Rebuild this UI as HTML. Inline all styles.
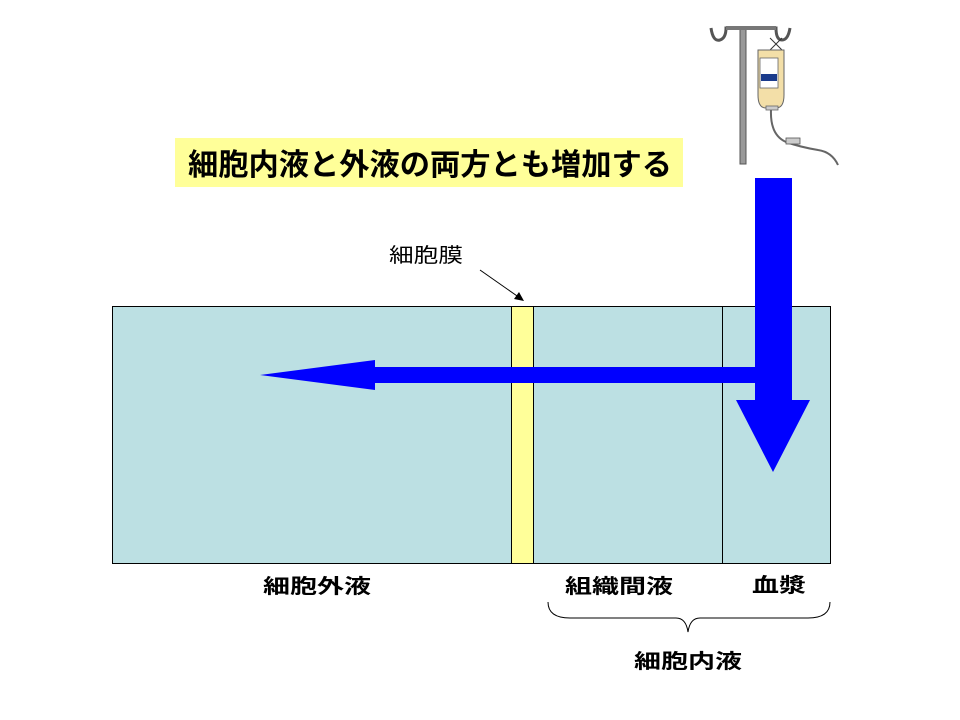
<!DOCTYPE html>
<html><head><meta charset="utf-8"><style>
html,body{margin:0;padding:0;background:#fff;}
svg{display:block;}
text{font-family:"Liberation Sans","Noto Sans CJK JP",sans-serif;}
</style></head><body>
<svg width="960" height="720" viewBox="0 0 960 720" xmlns="http://www.w3.org/2000/svg">
<rect x="175" y="138" width="508" height="49" fill="#ffff99"/>
<text x="188" y="175" font-size="30" font-weight="bold" textLength="484" lengthAdjust="spacingAndGlyphs">細胞内液と外液の両方とも増加する</text>
<text x="389" y="262" font-size="20" textLength="74" lengthAdjust="spacingAndGlyphs">細胞膜</text>
<line x1="480" y1="270" x2="520" y2="298" stroke="#000" stroke-width="1"/>
<polygon points="524,301 514,299 519,292" fill="#000"/>
<rect x="112.5" y="306.5" width="718" height="257" fill="#bce0e3" stroke="#000"/>
<rect x="511.5" y="306.5" width="22" height="257" fill="#ffff99" stroke="#000"/>
<line x1="722.5" y1="306" x2="722.5" y2="564" stroke="#000"/>
<polygon points="260,375 375,360 375,367 792,367 792,383 375,383 375,390" fill="#0000ff"/>
<polygon points="755,178 792,178 792,400 810,400 773,472 736,400 755,400" fill="#0000ff"/>
<text x="263" y="593" font-size="20" font-weight="bold" textLength="108" lengthAdjust="spacingAndGlyphs">細胞外液</text>
<text x="565" y="593" font-size="20" font-weight="bold" textLength="108" lengthAdjust="spacingAndGlyphs">組織間液</text>
<text x="752" y="592" font-size="20" font-weight="bold" textLength="54" lengthAdjust="spacingAndGlyphs">血漿</text>
<path d="M548,602 Q548,618 570,618 L676,618 Q686,618 688,632 Q690,618 700,618 L808,618 Q830,618 830,602" fill="none" stroke="#000" stroke-width="1"/>
<text x="634" y="668" font-size="20" font-weight="bold" textLength="108" lengthAdjust="spacingAndGlyphs">細胞内液</text>
<!-- IV drip -->
<g>
<rect x="740" y="28" width="6" height="136" fill="#999" stroke="#555" stroke-width="1"/>
<path d="M711,28 Q713,42 720,40 Q726,38 726,28 L776,28 Q776,40 782,40 Q788,40 790,28" fill="none" stroke="#555" stroke-width="3"/>
<path d="M726,28 L776,28" stroke="#777" stroke-width="4"/>
<path d="M770,38 L782,50 M782,38 L770,50" stroke="#333" stroke-width="1"/>
<path d="M758,50 L784,50 L784,95 Q784,108 776,108 L766,108 Q758,108 758,95 Z" fill="#f3dfa8" stroke="#666"/>
<rect x="760" y="58" width="18" height="30" fill="#fff" stroke="#666" stroke-width="0.8"/>
<rect x="761" y="74" width="16" height="7" fill="#1a3b8c"/>
<rect x="766" y="106" width="12" height="4" fill="#ccc" stroke="#666" stroke-width="0.8"/>
<path d="M771,110 Q770,135 786,142 Q800,147 818,150 Q832,152 838,165" fill="none" stroke="#666" stroke-width="2"/>
<rect x="786" y="138" width="14" height="6" fill="#ccc" stroke="#555" stroke-width="0.8"/>
</g>
</svg>
</body></html>
